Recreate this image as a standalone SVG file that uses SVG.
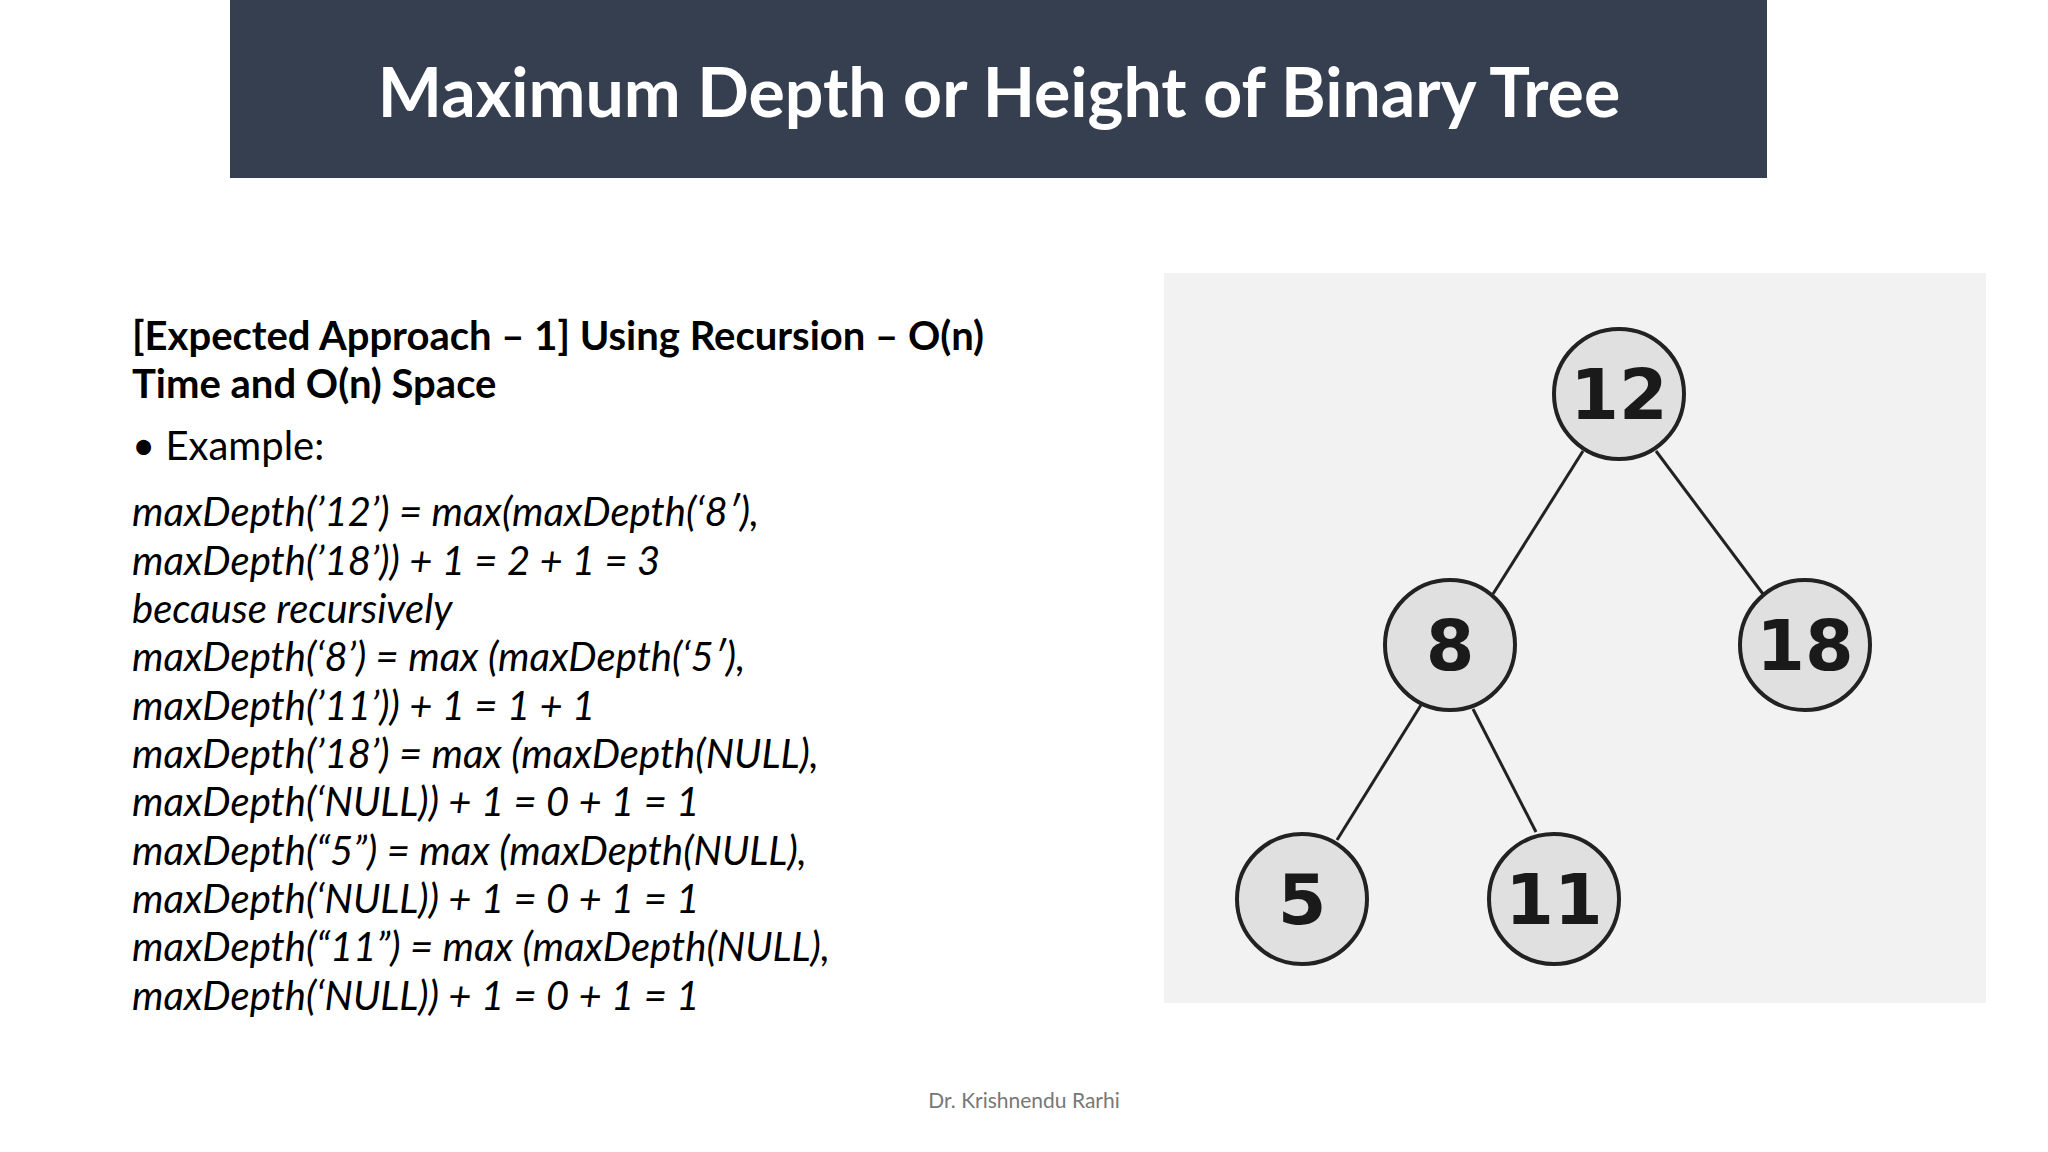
<svg xmlns="http://www.w3.org/2000/svg" width="2048" height="1152" viewBox="0 0 2048 1152">
<style>
.t{font-family:Lato,"Open Sans","Liberation Sans",sans-serif;font-size:40px;fill:#000}
.i{font-style:italic}
.n circle{fill:#e0e0e0;stroke:#222;stroke-width:4}
.n text{font-family:"DejaVu Sans",sans-serif;font-weight:bold;font-size:70px;fill:#1a1a1a;text-anchor:middle}
.e line{stroke:#222;stroke-width:3}
</style>
<rect width="2048" height="1152" fill="#fff"/>
<g id="title"><rect x="230" y="0" width="1537" height="178" fill="#353f4f"/>
<text x="999" y="117" text-anchor="middle" style="font-family:Lato,'Open Sans',sans-serif;font-weight:bold;font-size:68px;fill:#fff">Maximum Depth or Height of Binary Tree</text></g>
<g id="body">
<text class="t" x="132" y="350" font-weight="bold">[Expected Approach – 1] Using Recursion – O(n)</text>
<text class="t" x="132" y="398" font-weight="bold">Time and O(n) Space</text>
<text class="t" x="132" y="460">• Example:</text>
<g class="t i">
<text x="132" y="526">maxDepth(’12’) = max(maxDepth(‘8′),</text>
<text x="132" y="575">maxDepth(’18’)) + 1 = 2 + 1 = 3</text>
<text x="132" y="623">because recursively</text>
<text x="132" y="671">maxDepth(‘8’) =  max (maxDepth(‘5′),</text>
<text x="132" y="720">maxDepth(’11’)) + 1 = 1 + 1</text>
<text x="132" y="768">maxDepth(’18’) = max (maxDepth(NULL),</text>
<text x="132" y="816">maxDepth(‘NULL)) + 1 = 0 + 1 = 1</text>
<text x="132" y="865">maxDepth(“5”) = max (maxDepth(NULL),</text>
<text x="132" y="913">maxDepth(‘NULL)) + 1 = 0 + 1 = 1</text>
<text x="132" y="961">maxDepth(“11”) = max (maxDepth(NULL),</text>
<text x="132" y="1010">maxDepth(‘NULL)) + 1 = 0 + 1 = 1</text>
</g></g>
<text x="1024" y="1108" text-anchor="middle" style="font-family:Lato,'Open Sans',sans-serif;font-size:21px;fill:#777">Dr. Krishnendu Rarhi</text>
<rect x="1164" y="273" width="822" height="730" fill="#f2f2f2"/>
<g id="connectors" class="e">
<line x1="1583" y1="451" x2="1493" y2="594"/>
<line x1="1656" y1="451" x2="1766" y2="598"/>
<line x1="1421" y1="705" x2="1337" y2="840"/>
<line x1="1473" y1="709" x2="1536" y2="832"/>
</g>
<g id="n12" class="n"><circle cx="1619" cy="394" r="65"/><text x="1619" y="419">12</text></g>
<g id="n8" class="n"><circle cx="1450" cy="645" r="65"/><text x="1450" y="670">8</text></g>
<g id="n18" class="n"><circle cx="1805" cy="645" r="65"/><text x="1805" y="670">18</text></g>
<g id="n5" class="n"><circle cx="1302" cy="899" r="65"/><text x="1302" y="924">5</text></g>
<g id="n11" class="n"><circle cx="1554" cy="899" r="65"/><text x="1554" y="924">11</text></g>
</svg>
